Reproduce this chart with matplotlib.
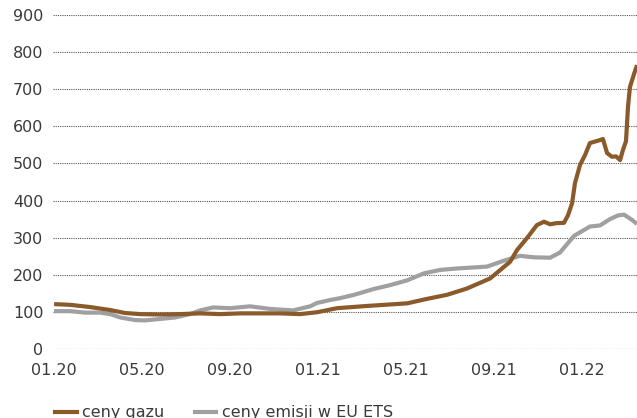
import matplotlib
matplotlib.use("Agg")
import matplotlib.pyplot as plt
from matplotlib.lines import Line2D

# Monthly index (0 = January 2020) and price index values
gas_months = [0, 0.73, 1.64, 2.55, 3.23, 3.91, 4.82, 5.73, 6.64, 7.55, 8.45, 9.36,
              10.27, 11.18, 11.95, 12.86, 14.23, 16.05, 16.95, 17.86, 18.77, 19.82,
              20.73, 21.05, 21.5, 21.95, 22.27, 22.55, 22.82, 23.18, 23.36, 23.55,
              23.68, 23.91, 24.14, 24.36, 24.59, 24.82, 24.95, 25.14, 25.36, 25.55,
              25.73, 25.86, 26.0, 26.09, 26.18, 26.36, 26.5]
gas_values = [121, 119, 113, 105, 97, 94, 93, 94, 96, 94, 96, 96,
              96, 94, 99, 110, 116, 123, 135, 146, 163, 190,
              235, 267, 299, 334, 343, 336, 339, 340, 360, 393,
              447, 496, 523, 555, 559, 563, 566, 528, 518, 519,
              509, 536, 560, 652, 706, 740, 765]

ets_months = [0, 0.73, 1.41, 2.09, 2.55, 3.0, 3.68, 4.14, 4.82, 5.5, 6.18, 6.64,
              7.23, 8.0, 8.91, 9.82, 10.86, 11.64, 11.95, 12.55, 13.0, 13.64,
              14.55, 15.27, 16.05, 16.82, 17.55, 18.32, 19.68, 20.45, 21.18, 21.82,
              22.55, 23.0, 23.64, 24.36, 24.82, 25.27, 25.64, 25.91, 26.27, 26.5]
ets_values = [102, 102, 98, 98, 94, 85, 78, 77, 81, 85, 94, 104,
              112, 110, 115, 108, 104, 115, 124, 132, 137, 146,
              162, 172, 185, 204, 213, 217, 222, 238, 251, 247,
              246, 260, 305, 330, 333, 350, 360, 362, 348, 337]

tick_months = [0, 4, 8, 12, 16, 20, 24]
tick_labels = ["01.20", "05.20", "09.20", "01.21", "05.21", "09.21", "01.22"]
y_ticks = [0, 100, 200, 300, 400, 500, 600, 700, 800, 900]

series_names = ["ceny gazu", "ceny emisji w EU ETS"]
gas_color = "#8a5a2b"
ets_color = "#a0a0a2"
text_color = "#3a3a3a"

plt.rcParams["font.family"] = ["DejaVu Sans"]

fig = plt.figure(figsize=(6.37, 4.18), dpi=100)
ax = fig.add_axes([53 / 637, 1 - 349 / 418, 1 - 53 / 637, (349 - 15) / 418])

ax.plot(ets_months, ets_values, color=ets_color, lw=3.0, solid_joinstyle="round",
        solid_capstyle="butt", zorder=3)
ax.plot(gas_months, gas_values, color=gas_color, lw=3.0, solid_joinstyle="round",
        solid_capstyle="butt", zorder=4)

ax.set_xlim(-0.05, 26.5)
ax.set_ylim(0, 900)
ax.set_yticks(y_ticks)
ax.set_xticks(tick_months)
ax.set_xticklabels(tick_labels)
ax.yaxis.grid(True, linestyle=(0, (1, 1)), linewidth=0.8, color="#555555")
ax.set_axisbelow(True)
for s in ax.spines.values():
    s.set_visible(False)
ax.tick_params(axis="both", length=0, labelsize=11.5, colors=text_color)
ax.tick_params(axis="y", pad=7)
ax.tick_params(axis="x", pad=10)

handles = [Line2D([], [], color=gas_color, lw=3.0),
           Line2D([], [], color=ets_color, lw=3.0)]
fig.legend(handles, series_names, loc="center left", bbox_to_anchor=(55 / 637, 1 - 413 / 418),
           ncol=2, frameon=False, fontsize=11.5, labelcolor=text_color,
           borderpad=0, borderaxespad=0,
           handlelength=1.35, handletextpad=0.35, columnspacing=1.9)

fig.savefig("out.png", dpi=100)
